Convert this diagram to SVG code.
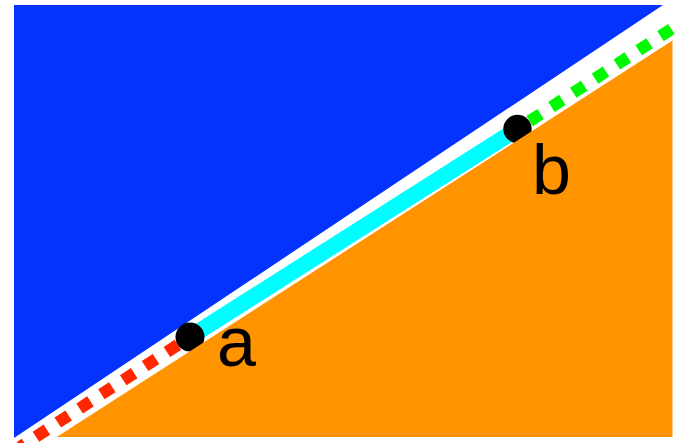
<svg xmlns="http://www.w3.org/2000/svg" width="675" height="443" viewBox="0 0 675 443">
<style>
.lbl{font-family:"Liberation Sans",Arial,sans-serif;font-size:70px;fill:#000}
.dash{fill:none;stroke-width:12;stroke-dasharray:13 13;stroke-dashoffset:11.5}
</style>
<rect width="675" height="443" fill="#fff"/>
<g id="upper-region"><polygon points="14,5 663,5 14,438" fill="#0433ff"/></g>
<g id="connectors">
<line x1="190" y1="337" x2="20" y2="447" class="dash" stroke="#ff2600"/>
<line x1="517.5" y1="129" x2="690" y2="17" class="dash" stroke="#00f900"/>
<line x1="190" y1="337" x2="517.5" y2="129" stroke="#00fdff" stroke-width="16"/>
</g>
<g id="node-a"><circle cx="190" cy="337" r="14.5" fill="#000"/></g>
<g id="node-b"><circle cx="517.5" cy="129" r="14.2" fill="#000"/></g>
<g id="lower-region"><polygon points="672.5,40.5 672.5,437 56.7,437" fill="#ff9300"/></g>
<g id="labels">
<text class="lbl" x="217" y="366">a</text>
<text class="lbl" x="532" y="194">b</text>
</g>
</svg>
